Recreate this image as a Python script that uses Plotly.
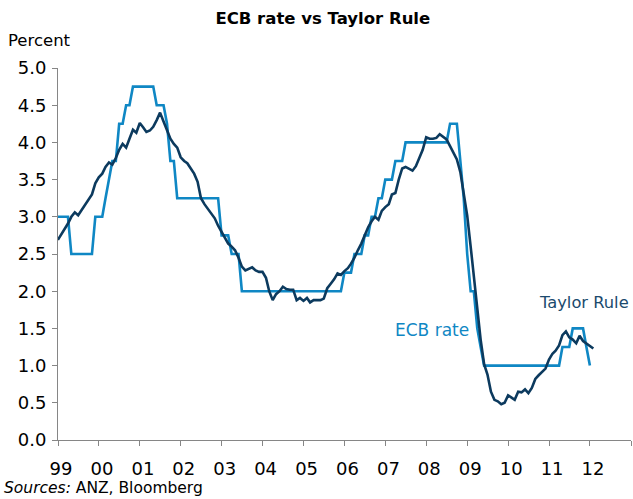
import pandas as pd
import plotly.graph_objects as go

# Month-end observations, first point = Dec 1998
ecb_rate = [
    3.00,
    3.00, 3.00, 3.00, 2.50, 2.50, 2.50, 2.50, 2.50, 2.50, 2.50, 3.00, 3.00,   # 1999
    3.00, 3.25, 3.50, 3.75, 3.75, 4.25, 4.25, 4.50, 4.50, 4.75, 4.75, 4.75,   # 2000
    4.75, 4.75, 4.75, 4.75, 4.50, 4.50, 4.50, 4.25, 3.75, 3.75, 3.25, 3.25,   # 2001
    3.25, 3.25, 3.25, 3.25, 3.25, 3.25, 3.25, 3.25, 3.25, 3.25, 3.25, 2.75,   # 2002
    2.75, 2.75, 2.50, 2.50, 2.50, 2.00, 2.00, 2.00, 2.00, 2.00, 2.00, 2.00,   # 2003
    2.00, 2.00, 2.00, 2.00, 2.00, 2.00, 2.00, 2.00, 2.00, 2.00, 2.00, 2.00,   # 2004
    2.00, 2.00, 2.00, 2.00, 2.00, 2.00, 2.00, 2.00, 2.00, 2.00, 2.00, 2.25,   # 2005
    2.25, 2.25, 2.50, 2.50, 2.50, 2.75, 2.75, 3.00, 3.00, 3.25, 3.25, 3.50,   # 2006
    3.50, 3.50, 3.75, 3.75, 3.75, 4.00, 4.00, 4.00, 4.00, 4.00, 4.00, 4.00,   # 2007
    4.00, 4.00, 4.00, 4.00, 4.00, 4.00, 4.25, 4.25, 4.25, 3.75, 3.25, 2.50,   # 2008
    2.00, 2.00, 1.50, 1.25, 1.00, 1.00, 1.00, 1.00, 1.00, 1.00, 1.00, 1.00,   # 2009
    1.00, 1.00, 1.00, 1.00, 1.00, 1.00, 1.00, 1.00, 1.00, 1.00, 1.00, 1.00,   # 2010
    1.00, 1.00, 1.00, 1.25, 1.25, 1.25, 1.50, 1.50, 1.50, 1.50, 1.25, 1.00,   # 2011
]

taylor_rule = [
    2.69,
    2.76, 2.84, 2.91, 3.00, 3.06, 3.02, 3.09, 3.17, 3.23, 3.30, 3.45, 3.53,   # 1999
    3.58, 3.67, 3.73, 3.70, 3.79, 3.90, 3.98, 3.93, 4.05, 4.17, 4.13, 4.26,   # 2000
    4.20, 4.14, 4.16, 4.21, 4.30, 4.40, 4.28, 4.15, 4.05, 3.98, 3.93, 3.80,   # 2001
    3.75, 3.72, 3.65, 3.58, 3.47, 3.25, 3.17, 3.10, 3.04, 2.98, 2.88, 2.80,   # 2002
    2.73, 2.64, 2.60, 2.55, 2.45, 2.33, 2.28, 2.30, 2.32, 2.28, 2.26, 2.26,   # 2003
    2.18, 2.00, 1.88, 1.96, 2.00, 2.06, 2.03, 2.02, 2.02, 1.88, 1.91, 1.87,   # 2004
    1.91, 1.85, 1.88, 1.88, 1.88, 1.90, 2.04, 2.10, 2.16, 2.24, 2.22, 2.27,   # 2005
    2.31, 2.37, 2.45, 2.55, 2.64, 2.75, 2.86, 2.94, 3.00, 2.96, 3.08, 3.13,   # 2006
    3.17, 3.30, 3.32, 3.50, 3.65, 3.67, 3.65, 3.62, 3.68, 3.80, 3.90, 4.07,   # 2007
    4.05, 4.05, 4.06, 4.11, 4.08, 4.04, 3.95, 3.85, 3.77, 3.60, 3.33, 3.02,   # 2008
    2.60, 2.20, 1.80, 1.35, 1.02, 0.88, 0.65, 0.54, 0.52, 0.48, 0.50, 0.60,   # 2009
    0.57, 0.54, 0.65, 0.64, 0.68, 0.63, 0.70, 0.82, 0.87, 0.92, 0.96, 1.08,   # 2010
    1.16, 1.20, 1.27, 1.41, 1.46, 1.38, 1.35, 1.30, 1.40, 1.33, 1.30, 1.27,   # 2011
    1.23,                                                                     # 2012
]

year_ticks = [f"{y}-01-01" for y in range(1999, 2014)]
year_labels = ["99", "00", "01", "02", "03", "04", "05", "06", "07", "08",
               "09", "10", "11", "12", ""]

ecb_dates = pd.date_range("1998-12-31", periods=len(ecb_rate), freq="ME")
taylor_dates = pd.date_range("1998-12-31", periods=len(taylor_rule), freq="ME")

ECB_COLOR = "#0f87c4"
TAYLOR_COLOR = "#0c3a5e"
AXIS_COLOR = "#868686"
FONT = "DejaVu Sans"

fig = go.Figure()
fig.add_trace(go.Scatter(x=ecb_dates, y=ecb_rate, mode="lines", name="ECB rate",
                         line=dict(color=ECB_COLOR, width=2.6)))
fig.add_trace(go.Scatter(x=taylor_dates, y=taylor_rule, mode="lines", name="Taylor Rule",
                         line=dict(color=TAYLOR_COLOR, width=2.6)))

fig.update_layout(
    width=633, height=499,
    margin=dict(l=58, r=2, t=68, b=59),
    paper_bgcolor="white", plot_bgcolor="white",
    showlegend=False,
    font=dict(family=FONT, color="#000000"),
    title=dict(text="<b>ECB rate vs Taylor Rule</b>", x=0.51, xanchor="center",
               y=0.964, yanchor="middle", font=dict(family=FONT, size=16.5, color="#000000")),
    xaxis=dict(type="date", range=["1999-01-01", "2013-01-01"],
               tickmode="array", tickvals=year_ticks, ticktext=year_labels,
               ticks="outside", ticklen=5, tickcolor=AXIS_COLOR, tickwidth=1,
               showline=True, linecolor=AXIS_COLOR, linewidth=1,
               showgrid=False, zeroline=False,
               tickfont=dict(family=FONT, size=18, color="#000000"),
               ticklabelstandoff=7, ticklabelshift=3),
    yaxis=dict(range=[0, 5], tickmode="linear", tick0=0, dtick=0.5, tickformat=".1f",
               ticks="outside", ticklen=5, tickcolor=AXIS_COLOR, tickwidth=1,
               showline=True, linecolor=AXIS_COLOR, linewidth=1,
               showgrid=False, zeroline=False,
               tickfont=dict(family=FONT, size=18, color="#000000"),
               ticklabelstandoff=2),
)

fig.add_annotation(text="Percent", xref="paper", yref="paper", x=-58/573, y=(440-40)/372,
                   xanchor="left", yanchor="middle", showarrow=False, xshift=6,
                   font=dict(family=FONT, size=16.5, color="#000000"))
fig.add_annotation(text="<i>Sources:</i> ANZ, Bloomberg", xref="paper", yref="paper",
                   x=-58/573, y=(440-488)/372, xanchor="left", yanchor="middle",
                   showarrow=False, xshift=2,
                   font=dict(family=FONT, size=15.5, color="#000000"))
fig.add_annotation(text="ECB rate", xref="paper", yref="paper", x=(471-58)/573,
                   y=(440-330)/372, xanchor="right", yanchor="middle", showarrow=False,
                   font=dict(family=FONT, size=17, color=ECB_COLOR))
fig.add_annotation(text="Taylor Rule", xref="paper", yref="paper", x=(537-58)/573,
                   y=(440-302)/372, xanchor="left", yanchor="middle", showarrow=False,
                   font=dict(family=FONT, size=16.3, color="#1b4a6d"))

fig.write_html("out.html", config={"displayModeBar": False},
               post_script="document.body.style.margin='0';")
